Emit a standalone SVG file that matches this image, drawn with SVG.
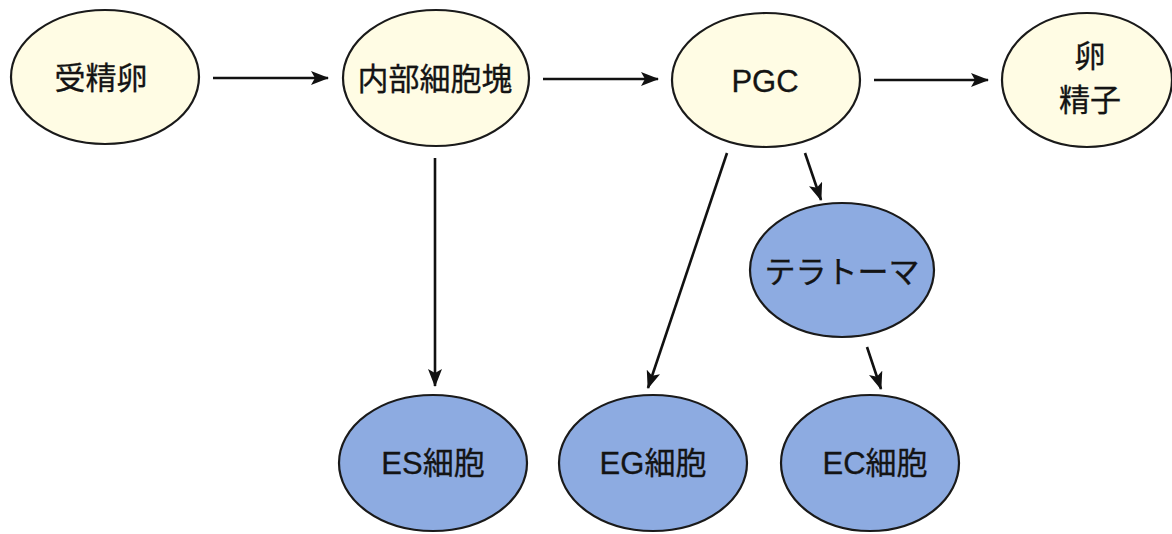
<svg xmlns="http://www.w3.org/2000/svg" width="1172" height="534" viewBox="0 0 1172 534">
<style>
.cream{fill:#FFFCE4;stroke:#1a1a1a;stroke-width:2.2}
.blue{fill:#8DABE1;stroke:#1a1a1a;stroke-width:2.2}
text{font-family:"Liberation Sans","Noto Sans CJK JP",sans-serif;font-size:31px;fill:#141414;text-anchor:middle;stroke:#141414;stroke-width:0.3}
.conn line{stroke:#111;stroke-width:2.6;marker-end:url(#ah)}
</style>
<defs>
<marker id="ah" viewBox="0 0 18 14" refX="17" refY="7" markerWidth="18" markerHeight="14" markerUnits="userSpaceOnUse" orient="auto">
<path d="M0,0 L18,7 L0,14 L4,7 Z" fill="#111"/>
</marker>
</defs>
<g class="conn" id="connectors">
<line x1="213" y1="78" x2="328" y2="78"/>
<line x1="543" y1="79" x2="658" y2="79"/>
<line x1="874" y1="80" x2="988" y2="80"/>
<line x1="435" y1="158" x2="435" y2="386"/>
<line x1="805" y1="153" x2="821" y2="200"/>
<line x1="727" y1="153" x2="648" y2="388"/>
<line x1="867" y1="347" x2="881" y2="389"/>
</g>
<g id="n1"><ellipse class="cream" cx="105" cy="77" rx="94" ry="67"/><text x="101" y="89">受精卵</text></g>
<g id="n2"><ellipse class="cream" cx="436" cy="78" rx="93" ry="68"/><text x="435" y="90">内部細胞塊</text></g>
<g id="n3"><ellipse class="cream" cx="766" cy="80" rx="94" ry="67"/><text x="765" y="92">PGC</text></g>
<g id="n4"><ellipse class="cream" cx="1087" cy="80" rx="85" ry="67"/><text x="1090" y="67">卵</text><text x="1090" y="111">精子</text></g>
<g id="n5"><ellipse class="blue" cx="842" cy="270" rx="92" ry="67"/><text x="842" y="283">テラトーマ</text></g>
<g id="n6"><ellipse class="blue" cx="433" cy="463" rx="94" ry="68"/><text x="433" y="474">ES細胞</text></g>
<g id="n7"><ellipse class="blue" cx="653" cy="463" rx="94" ry="68"/><text x="653" y="474">EG細胞</text></g>
<g id="n8"><ellipse class="blue" cx="870" cy="463" rx="89" ry="68"/><text x="875" y="474">EC細胞</text></g>
</svg>
